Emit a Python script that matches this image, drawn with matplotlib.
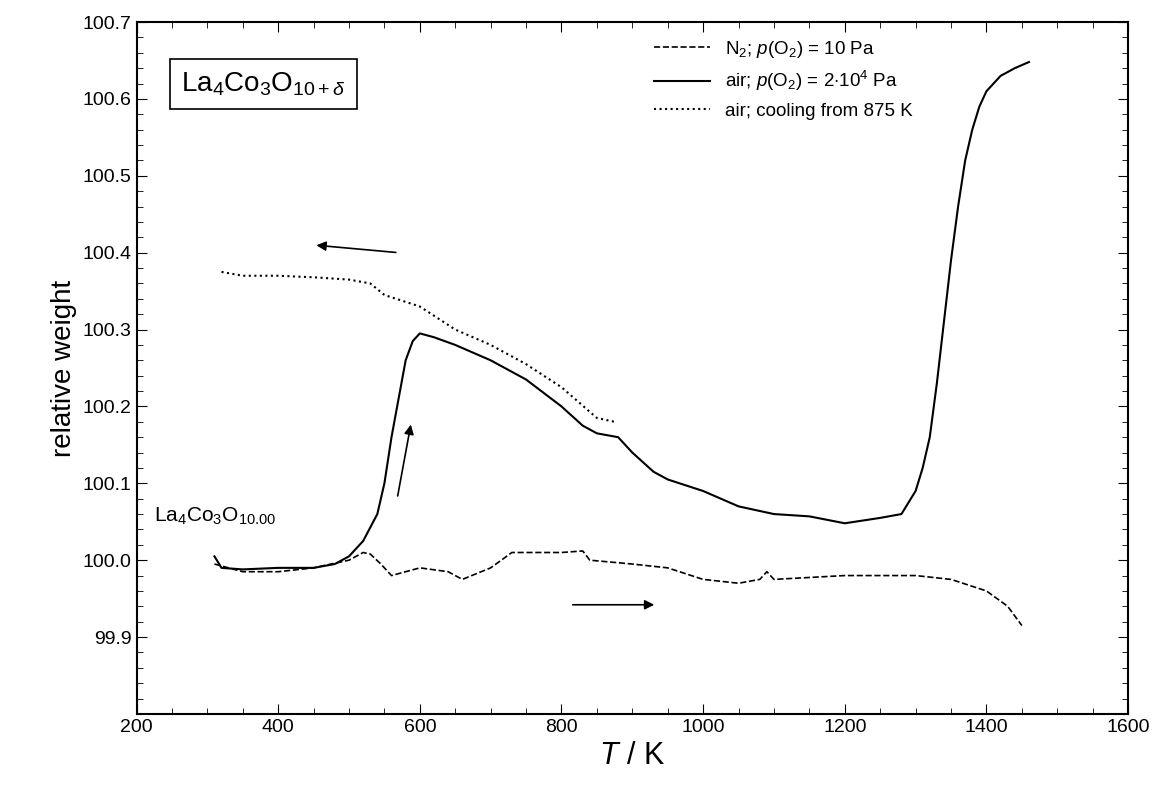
import matplotlib
matplotlib.use("Agg")
import matplotlib.pyplot as plt

plt.rcParams['font.family'] = ['Liberation Sans', 'DejaVu Sans']
plt.rcParams['mathtext.fontset'] = 'custom'
plt.rcParams['mathtext.rm'] = 'Liberation Sans'
plt.rcParams['mathtext.it'] = 'Liberation Sans:italic'

# air heating, p(O2) = 2e4 Pa
air_T = [310, 320, 350, 400, 450, 480, 500, 520, 540, 550, 560, 570, 580, 590, 600, 620, 650, 700,
         750, 800, 830, 850, 880, 900, 930, 950, 1000, 1050, 1100, 1150, 1200, 1250, 1280, 1290,
         1300, 1310, 1320, 1330, 1340, 1350, 1360, 1370, 1380, 1390, 1400, 1420, 1440, 1460]
air_w = [100.005, 99.99, 99.988, 99.99, 99.99, 99.995, 100.005, 100.025, 100.06, 100.1, 100.16,
         100.21, 100.26, 100.285, 100.295, 100.29, 100.28, 100.26, 100.235, 100.2, 100.175,
         100.165, 100.16, 100.14, 100.115, 100.105, 100.09, 100.07, 100.06, 100.057, 100.048,
         100.055, 100.06, 100.075, 100.09, 100.12, 100.16, 100.23, 100.31, 100.39, 100.46,
         100.52, 100.56, 100.59, 100.61, 100.63, 100.64, 100.648]

# N2, p(O2) = 10 Pa
n2_T = [310, 350, 400, 450, 500, 520, 530, 545, 560, 600, 640, 660, 700, 730, 800, 830, 840, 900,
        950, 1000, 1050, 1080, 1090, 1100, 1200, 1300, 1350, 1400, 1430, 1450]
n2_w = [99.995, 99.985, 99.985, 99.99, 100.0, 100.01, 100.008, 99.995, 99.98, 99.99, 99.985,
        99.975, 99.99, 100.01, 100.01, 100.012, 100.0, 99.995, 99.99, 99.975, 99.97, 99.975,
        99.985, 99.975, 99.98, 99.98, 99.975, 99.96, 99.94, 99.915]

# air, cooling from 875 K
cool_T = [320, 350, 400, 450, 500, 530, 550, 600, 650, 700, 750, 800, 850, 875]
cool_w = [100.375, 100.37, 100.37, 100.368, 100.365, 100.36, 100.345, 100.33, 100.3, 100.28,
          100.255, 100.225, 100.185, 100.18]

yticks = [99.9, 100.0, 100.1, 100.2, 100.3, 100.4, 100.5, 100.6, 100.7]
ylabels = ['99.9', '100.0', '100.1', '100.2', '100.3', '100.4', '100.5', '100.6', '100.7']

fig = plt.figure(figsize=(11.57, 7.88), dpi=100)
ax = fig.add_axes([0.118, 0.094, 0.857, 0.878])

ax.plot(n2_T, n2_w, 'k--', lw=1.2, label=r'N$_2$; $p$(O$_2$) = 10 Pa')
ax.plot(air_T, air_w, 'k-', lw=1.5, label=r'air; $p$(O$_2$) = 2$\cdot$10$^4$ Pa')
ax.plot(cool_T, cool_w, 'k:', lw=1.5, label='air; cooling from 875 K')

ax.set_xlim(200, 1600)
ax.set_ylim(99.8, 100.7)
ax.set_yticks(yticks)
ax.set_yticklabels(ylabels)
ax.set_xticks(range(200, 1601, 200))
ax.minorticks_on()
ax.tick_params(which='both', direction='in', top=True, right=True, labelsize=14)
ax.tick_params(which='major', length=7)
ax.tick_params(which='minor', length=4)
for s in ax.spines.values():
    s.set_linewidth(1.5)

ax.set_xlabel(r'$T$ / K', fontsize=22)
ax.set_ylabel('relative weight', fontsize=20)

ax.legend(loc='upper right', bbox_to_anchor=(0.80, 1.0), frameon=False, fontsize=13.5,
          handlelength=3)

ax.text(0.045, 0.93, r'La$_4$Co$_3$O$_{10+\delta}$', transform=ax.transAxes, fontsize=20,
        va='top', bbox=dict(boxstyle='square,pad=0.4', fc='white', ec='black', lw=1.2))
ax.text(225, 100.05, r'La$_4$Co$_3$O$_{10.00}$', fontsize=15)

arrow = dict(arrowstyle='-|>', color='black', lw=1.2, mutation_scale=14)
ax.annotate('', xy=(450, 100.41), xytext=(570, 100.40), arrowprops=arrow)
ax.annotate('', xy=(588, 100.18), xytext=(568, 100.08), arrowprops=arrow)
ax.annotate('', xy=(935, 99.942), xytext=(812, 99.942), arrowprops=arrow)

fig.savefig('out.png', dpi=100)
